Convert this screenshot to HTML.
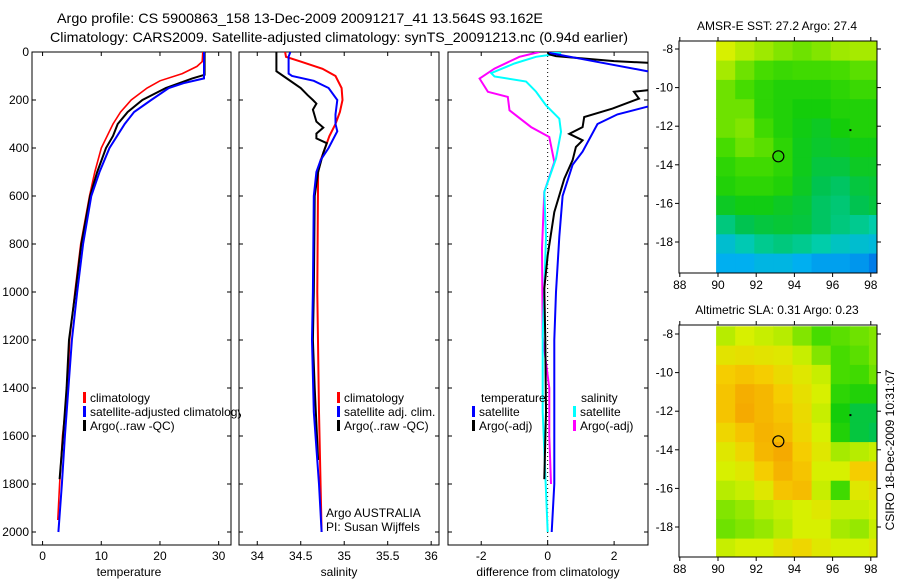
<!DOCTYPE html>
<html><head><meta charset="utf-8">
<style>
html,body{margin:0;padding:0;background:#fff;}
svg{display:block;font-family:"Liberation Sans",sans-serif;}
</style></head>
<body>
<svg id="fig" width="900" height="580" viewBox="0 0 900 580" xmlns="http://www.w3.org/2000/svg">
<text x="300" y="23" font-size="14" text-anchor="middle" textLength="486" lengthAdjust="spacingAndGlyphs">Argo profile: CS 5900863_158 13-Dec-2009 20091217_41 13.564S 93.162E</text>
<text x="339" y="42" font-size="14" text-anchor="middle" textLength="578" lengthAdjust="spacingAndGlyphs">Climatology: CARS2009. Satellite-adjusted climatology: synTS_20091213.nc (0.94d earlier)</text>
<g id="g"></g>
</svg>
<script>
// ---------- data ----------
const tempClimDepth=[0,40,60,90,120,150,200,250,300,400,500,600,800,1000,1200,1400,1600,1800,1950];
const tempClim=[27.3,27.2,26.3,23.8,20,17.8,15.1,13.3,12,10,8.9,8,6.5,5.5,4.6,4.3,3.4,2.9,2.6];
const tempSatDepth=[0,110,130,150,200,250,300,400,500,600,800,1000,1200,1400,1600,1800,2000];
const tempSat=[27.5,27.5,24,21.5,18.5,15.6,14,11.4,9.7,8.3,6.9,5.9,5,4.4,3.8,3.3,2.7];
const tempArgoDepth=[0,95,110,150,200,250,300,350,400,500,600,800,1000,1200,1400,1600,1780];
const tempArgo=[27.6,27.6,25.5,21,17,14.5,12.8,12,10.8,9.3,8.1,6.6,5.6,4.5,4.1,3.5,2.9];

const salClimDepth=[0,20,40,70,100,150,200,250,300,350,400,450,500,1000,1500,2000];
const salClim=[34.32,34.33,34.5,34.75,34.9,34.97,34.98,34.95,34.9,34.83,34.78,34.73,34.7,34.69,34.71,34.74];
const salSatDepth=[0,20,90,100,120,150,200,260,300,330,400,450,500,600,1000,1200,1500,1800,2000];
const salSat=[34.38,34.36,34.36,34.4,34.65,34.82,34.92,34.9,34.9,34.92,34.82,34.73,34.68,34.65,34.64,34.63,34.65,34.71,34.74];
const salArgoDepth=[0,80,100,150,180,200,215,240,290,315,340,360,380,420,500,600,1000,1200,1400,1700];
const salArgo=[34.22,34.22,34.3,34.5,34.58,34.64,34.68,34.64,34.68,34.76,34.68,34.68,34.8,34.76,34.7,34.66,34.65,34.64,34.66,34.7];

const dTSatDepth=[0,5,80,85,220,228,260,300,415,470,600,770,1000,1200,1500,1800,2000];
const dTSat=[0.05,0.1,3.0,3.3,3.3,3.0,2.1,1.5,1.05,0.75,0.45,0.35,0.25,0.2,0.2,0.2,0.12];
const dTArgoDepth=[0,10,17,38,45,50,155,159,166,194,236,271,313,341,368,396,451,528,667,847,986,1200,1500,1780];
const dTArgo=[0,0.05,0.25,2.0,3.0,3.3,3.3,3.0,2.6,2.75,1.95,1.1,1.05,0.65,1.05,0.85,0.75,0.5,0.2,0.0,-0.1,-0.07,-0.05,-0.1];
const dSSatDepth=[0,5,20,48,88,102,123,165,222,278,333,444,583,771,1187,1500,2000];
const dSSat=[0,0.4,-0.35,-1.0,-1.7,-1.6,-0.65,-0.35,-0.05,0.35,0.4,0.25,-0.1,-0.05,-0.15,-0.15,0.0];
const dSArgoDepth=[0,20,69,111,166,187,243,313,354,458,583,819,1187,1400,1600,1800];
const dSArgo=[-0.25,-0.85,-1.6,-2.05,-1.8,-1.2,-1.15,-0.5,0.05,0.2,-0.1,-0.17,-0.15,0.05,0.05,0.1];

const depthTicks=[0,200,400,600,800,1000,1200,1400,1600,1800,2000];
const tempTicks=[0,10,20,30];
const salTicks=[34,34.5,35,35.5,36];
const salTickLabels=["34","34.5","35","35.5","36"];
const diffTicks=[-2,0,2];
const lonTicks=[88,90,92,94,96,98];
const latTicks=[-8,-10,-12,-14,-16,-18];

const sstGrid=[
[0.72,0.68,0.65,0.62,0.6,0.62,0.65,0.66,0.66],
[0.66,0.6,0.56,0.54,0.55,0.55,0.56,0.58,0.58],
[0.6,0.56,0.52,0.5,0.5,0.5,0.52,0.54,0.54],
[0.6,0.6,0.52,0.5,0.48,0.48,0.5,0.5,0.5],
[0.6,0.62,0.55,0.5,0.47,0.45,0.48,0.5,0.5],
[0.56,0.6,0.58,0.52,0.46,0.44,0.45,0.47,0.47],
[0.52,0.55,0.55,0.52,0.46,0.42,0.42,0.45,0.45],
[0.5,0.52,0.52,0.5,0.45,0.4,0.38,0.42,0.43],
[0.45,0.47,0.47,0.45,0.43,0.38,0.36,0.4,0.42],
[0.35,0.4,0.42,0.43,0.42,0.38,0.35,0.33,0.3],
[0.22,0.28,0.33,0.35,0.33,0.3,0.25,0.22,0.2],
[0.15,0.15,0.18,0.18,0.15,0.12,0.12,0.1,0.05]];
const slaGrid=[
[0.68,0.72,0.7,0.68,0.62,0.56,0.58,0.6,0.62],
[0.75,0.76,0.75,0.74,0.7,0.62,0.56,0.58,0.62],
[0.8,0.82,0.8,0.77,0.74,0.7,0.56,0.55,0.6],
[0.82,0.87,0.85,0.8,0.76,0.72,0.52,0.5,0.5],
[0.82,0.88,0.85,0.82,0.77,0.7,0.48,0.42,0.42],
[0.78,0.82,0.86,0.84,0.78,0.72,0.5,0.42,0.4],
[0.74,0.78,0.85,0.88,0.8,0.74,0.66,0.68,0.7],
[0.72,0.74,0.8,0.86,0.82,0.72,0.72,0.8,0.8],
[0.68,0.7,0.74,0.82,0.84,0.7,0.55,0.74,0.76],
[0.62,0.64,0.68,0.7,0.72,0.74,0.7,0.7,0.72],
[0.6,0.62,0.64,0.68,0.72,0.72,0.66,0.64,0.7],
[0.7,0.72,0.72,0.76,0.78,0.74,0.72,0.72,0.74]];
const argoLon=93.16, argoLat=-13.56;

// ---------- helpers ----------
const NS="http://www.w3.org/2000/svg";
const G=document.getElementById('g');
function mk(tag,attrs,parent){const e=document.createElementNS(NS,tag);for(const k in attrs)e.setAttribute(k,attrs[k]);(parent||G).appendChild(e);return e;}
function txt(x,y,s,size,anchor,parent){const t=mk('text',{x:x,y:y,'font-size':size,'text-anchor':anchor||'start'},parent);t.textContent=s;return t;}
const Y0=52, DY=0.24, PB=545;
const yD=d=>Y0+d*DY;
const panels=[
 {n:'temperature',x0:32,x1:231,vmin:-1.8,vmax:32.1},
 {n:'salinity',x0:239,x1:439,vmin:33.79,vmax:36.09},
 {n:'difference',x0:448,x1:648,vmin:-3.0,vmax:3.02}];
function xf(p){return v=>p.x0+(v-p.vmin)/(p.vmax-p.vmin)*(p.x1-p.x0);}

panels.forEach((p,i)=>{
  const f=mk('rect',{x:p.x0,y:Y0,width:p.x1-p.x0,height:PB-Y0,fill:'none',stroke:'#000','stroke-width':1});
  
  
  const ticks=i==0?tempTicks:i==1?salTicks:diffTicks;
  const X=xf(p);
  ticks.forEach((t,j)=>{
    mk('line',{x1:X(t),x2:X(t),y1:PB,y2:PB-4,stroke:'#000'});
    mk('line',{x1:X(t),x2:X(t),y1:Y0,y2:Y0+4,stroke:'#000'});
    const lab=txt(X(t),560,i==1?salTickLabels[j]:String(t),12,'middle');
    
    
  });
  depthTicks.forEach(d=>{
    mk('line',{x1:p.x0,x2:p.x0+4,y1:yD(d),y2:yD(d),stroke:'#000'});
    mk('line',{x1:p.x1,x2:p.x1-4,y1:yD(d),y2:yD(d),stroke:'#000'});
  });
});
depthTicks.forEach(d=>{
  const t=txt(29,yD(d)+4,String(d),12,'end');
  
  
});
[['temperature',129],['salinity',339],['difference from climatology',548]].forEach(a=>{
  const t=txt(a[1],576,a[0],12,'middle');
  
  
});

const defs=mk('defs',{});
panels.forEach((p,i)=>{const c=mk('clipPath',{id:'cp'+i},defs);mk('rect',{x:p.x0,y:Y0,width:p.x1-p.x0,height:PB-Y0},c);});

const X3=xf(panels[2]);
const zl=mk('line',{x1:X3(0),x2:X3(0),y1:Y0,y2:PB,stroke:'#000','stroke-dasharray':'1,3'});



function series(pi,depths,vals,color,name,w){
  const X=xf(panels[pi]);
  let pts=[];
  for(let k=0;k<depths.length;k++)pts.push(X(vals[k]).toFixed(1)+','+yD(depths[k]).toFixed(1));
  const pl=mk('polyline',{points:pts.join(' '),fill:'none',stroke:color,'stroke-width':w||2,'clip-path':'url(#cp'+pi+')','stroke-linejoin':'miter'});
  
  
}
series(0,tempClimDepth,tempClim,'#f00','temp-climatology-line',1.6);
series(0,tempArgoDepth,tempArgo,'#000','temp-argo-line',2);
series(0,tempSatDepth,tempSat,'#00f','temp-satellite-line',2);
series(1,salClimDepth,salClim,'#f00','sal-climatology-line',2);
series(1,salArgoDepth,salArgo,'#000','sal-argo-line',2);
series(1,salSatDepth,salSat,'#00f','sal-satellite-line',2);
series(2,dSArgoDepth,dSArgo,'#f0f','diff-sal-argo-line',2);
series(2,dSSatDepth,dSSat,'#0ff','diff-sal-satellite-line',2);
series(2,dTArgoDepth,dTArgo,'#000','diff-temp-argo-line',2);
series(2,dTSatDepth,dTSat,'#00f','diff-temp-satellite-line',2);

function legend(x,y,color,label,name){
  const g=mk('g',{});
  
  
  mk('rect',{x:x,y:y-10,width:3,height:11,fill:color},g);
  txt(x+7,y,label,12,'start',g);
}
const lc=mk('clipPath',{id:'lclip'},defs);mk('rect',{x:0,y:0,width:241,height:580},lc);
const lg1=mk('g',{'clip-path':'url(#lclip)'});
[['#f00','climatology'],['#00f','satellite-adjusted climatology'],['#000','Argo(..raw -QC)']].forEach((a,k)=>{
  const y=402+k*14;
  mk('rect',{x:83,y:y-10,width:3,height:11,fill:a[0]},lg1);
  const t=txt(90,y,a[1],12,'start',lg1);
  
  
});
[['#f00','climatology'],['#00f','satellite adj. clim.'],['#000','Argo(..raw -QC)']].forEach((a,k)=>legend(337,402+k*14,a[0],a[1],'sal-legend-entry'));
let t1=txt(326,517,'Argo AUSTRALIA',12);
let t2=txt(326,531,'PI: Susan Wijffels',12);
let t3=txt(481,402,'temperature',12);
let t4=txt(581,402,'salinity',12);
legend(472,416,'#00f','satellite','diff-legend-temp-satellite');
legend(472,430,'#000','Argo(-adj)','diff-legend-temp-argo');
legend(573,416,'#0ff','satellite','diff-legend-sal-satellite');
legend(573,430,'#f0f','Argo(-adj)','diff-legend-sal-argo');

// ---------- maps ----------
const stops=[[0,[0,100,230]],[0.15,[0,175,240]],[0.3,[0,205,170]],[0.4,[0,195,80]],[0.48,[20,205,10]],[0.56,[70,220,0]],[0.64,[150,232,0]],[0.72,[215,240,0]],[0.8,[245,205,0]],[0.88,[245,170,0]],[1,[240,140,0]]];
function cmap(v){for(let k=1;k<stops.length;k++){if(v<=stops[k][0]){const a=stops[k-1],b=stops[k],t=(v-a[0])/(b[0]-a[0]);return 'rgb('+a[1].map((c,j)=>Math.round(c+(b[1][j]-c)*t)).join(',')+')';}}return 'rgb(240,140,0)';}
function map(top,lat8,grid,title,name){
  const L=679,R=877,B=top+232;
  const lonX=lo=>718+(lo-90)*19.1;
  const latY=la=>lat8+(-8-la)*19.3;
  const g=mk('g',{});
  
  
  const cp=mk('clipPath',{id:'cp'+name},defs);mk('rect',{x:L,y:top,width:R-L,height:B-top},cp);
  const cg=mk('g',{'clip-path':'url(#cp'+name+')'},g);
  for(let r=0;r<grid.length;r++)for(let c=0;c<grid[r].length;c++){
    const x=lonX(89.9+c),y=latY(-7.6-r);
    const cell=mk('rect',{x:x.toFixed(1),y:y.toFixed(1),width:19.6,height:19.8,fill:cmap(grid[r][c])},cg);
    
    
  }
  mk('rect',{x:L,y:top,width:R-L,height:B-top,fill:'none',stroke:'#000'},g);
  lonTicks.forEach(lo=>{
    mk('line',{x1:lonX(lo),x2:lonX(lo),y1:B,y2:B+4,stroke:'#000'},g);
    mk('line',{x1:lonX(lo),x2:lonX(lo),y1:top,y2:top-4,stroke:'#000'},g);
    const t=txt(lonX(lo),B+16,String(lo),12,'middle',g);
    
    
  });
  latTicks.forEach(la=>{
    mk('line',{x1:L,x2:L-4,y1:latY(la),y2:latY(la),stroke:'#000'},g);
    mk('line',{x1:R,x2:R+4,y1:latY(la),y2:latY(la),stroke:'#000'},g);
    const t=txt(L-6,latY(la)+4,String(la),12,'end',g);
    
    
  });
  const c=mk('circle',{cx:lonX(argoLon),cy:latY(argoLat),r:5.5,fill:'none',stroke:'#000','stroke-width':1.2},g);
  
  
  mk('rect',{x:lonX(96.88),y:latY(-12.15),width:2,height:2,fill:'#000'},g);
  const tt=txt(777,top-11,title,12,'middle',g);
  
  
}
map(41,49,sstGrid,'AMSR-E SST: 27.2 Argo: 27.4','sst-map');
map(325,334,slaGrid,'Altimetric SLA: 0.31 Argo: 0.23','sla-map');
const cs=txt(0,0,'CSIRO 18-Dec-2009 10:31:07',12,'middle');
cs.setAttribute('transform','translate(894,450) rotate(-90)');


</script>
</body></html>
